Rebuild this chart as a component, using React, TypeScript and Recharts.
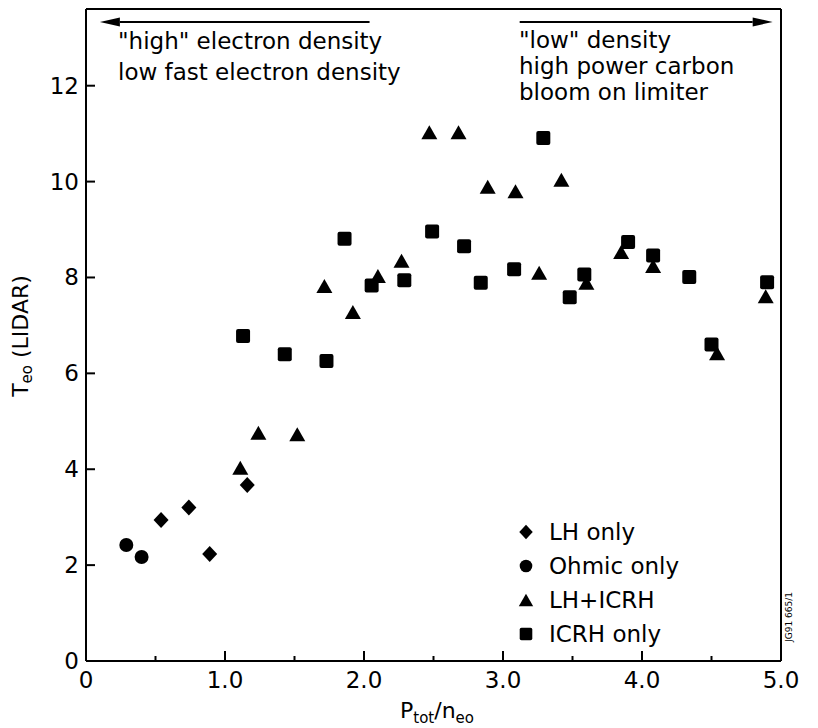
import React from 'react';
import { ScatterChart, Scatter, XAxis, YAxis, ReferenceLine, Legend, Customized } from 'recharts';

// T_eo (LIDAR) against P_tot/n_eo, one array per heating scheme
const lhOnly = [
  { x: 0.54, y: 2.94 },
  { x: 0.74, y: 3.2 },
  { x: 0.89, y: 2.23 },
  { x: 1.16, y: 3.67 },
];

const ohmicOnly = [
  { x: 0.29, y: 2.42 },
  { x: 0.4, y: 2.17 },
];

const lhIcrh = [
  { x: 1.11, y: 4.03 },
  { x: 1.24, y: 4.76 },
  { x: 1.52, y: 4.73 },
  { x: 1.715, y: 7.82 },
  { x: 1.92, y: 7.28 },
  { x: 2.1, y: 8.03 },
  { x: 2.27, y: 8.35 },
  { x: 2.47, y: 11.03 },
  { x: 2.68, y: 11.03 },
  { x: 2.89, y: 9.89 },
  { x: 3.09, y: 9.8 },
  { x: 3.26, y: 8.1 },
  { x: 3.42, y: 10.04 },
  { x: 3.6, y: 7.89 },
  { x: 3.85, y: 8.53 },
  { x: 4.08, y: 8.24 },
  { x: 4.54, y: 6.42 },
  { x: 4.89, y: 7.61 },
];

const icrhOnly = [
  { x: 1.13, y: 6.78 },
  { x: 1.43, y: 6.4 },
  { x: 1.73, y: 6.26 },
  { x: 1.86, y: 8.81 },
  { x: 2.055, y: 7.83 },
  { x: 2.29, y: 7.94 },
  { x: 2.49, y: 8.96 },
  { x: 2.72, y: 8.65 },
  { x: 2.84, y: 7.89 },
  { x: 3.08, y: 8.17 },
  { x: 3.29, y: 10.91 },
  { x: 3.48, y: 7.59 },
  { x: 3.585, y: 8.06 },
  { x: 3.9, y: 8.74 },
  { x: 4.08, y: 8.46 },
  { x: 4.34, y: 8.01 },
  { x: 4.5, y: 6.6 },
  { x: 4.9, y: 7.9 },
];

const xTicks = [0, 0.5, 1, 1.5, 2, 2.5, 3, 3.5, 4, 4.5, 5];
const yTicks = [0, 2, 4, 6, 8, 10, 12];
const xTickLabels: Record<number, string> = { 0: '0', 1: '1.0', 2: '2.0', 3: '3.0', 4: '4.0', 5: '5.0' };

const Y_MAX = 13.6;
const ARROW_Y = 13.33;

const FONT = '"DejaVu Sans", sans-serif';

type Kind = 'diamond' | 'circle' | 'triangle' | 'square';

const series: { name: string; kind: Kind; data: { x: number; y: number }[] }[] = [
  { name: 'LH only', kind: 'diamond', data: lhOnly },
  { name: 'Ohmic only', kind: 'circle', data: ohmicOnly },
  { name: 'LH+ICRH', kind: 'triangle', data: lhIcrh },
  { name: 'ICRH only', kind: 'square', data: icrhOnly },
];

function Marker({ kind, cx, cy, s = 1 }: { kind: Kind; cx: number; cy: number; s?: number }) {
  if (kind === 'diamond') {
    return <polygon points={`${cx},${cy - 8 * s} ${cx + 7.5 * s},${cy} ${cx},${cy + 8 * s} ${cx - 7.5 * s},${cy}`} fill="#000" />;
  }
  if (kind === 'circle') {
    return <circle cx={cx} cy={cy} r={7 * s} fill="#000" />;
  }
  if (kind === 'triangle') {
    return <polygon points={`${cx},${cy - 7 * s} ${cx + 8 * s},${cy + 7 * s} ${cx - 8 * s},${cy + 7 * s}`} fill="#000" />;
  }
  return <rect x={cx - 7 * s} y={cy - 7 * s} width={14 * s} height={14 * s} rx={2 * s} fill="#000" />;
}

const XTick = (props: any) => {
  const { x, y, payload } = props;
  const v = payload.value;
  const major = Number.isInteger(v);
  return (
    <g>
      <line x1={x} y1={y} x2={x} y2={y - (major ? 10 : 5)} stroke="#000" strokeWidth={2} />
      {major && (
        <text x={x} y={y + 27} textAnchor="middle" fontSize={23} fontFamily={FONT} fill="#000">
          {xTickLabels[v]}
        </text>
      )}
    </g>
  );
};

const YTick = (props: any) => {
  const { x, y, payload } = props;
  return (
    <g>
      <line x1={x} y1={y} x2={x + 9} y2={y} stroke="#000" strokeWidth={2} />
      <text x={x - 7} y={y + 8} textAnchor="end" fontSize={23} fontFamily={FONT} fill="#000">
        {payload.value}
      </text>
    </g>
  );
};

const Arrow = (props: any) => {
  const { x1, y1, x2, y2 } = props;
  const dir = Math.sign(x2 - x1);
  const head = 20;
  return (
    <g>
      <line x1={x1} y1={y1} x2={x2 - dir * head} y2={y2} stroke="#000" strokeWidth={2} />
      <polygon points={`${x2},${y2} ${x2 - dir * head},${y2 - 4.5} ${x2 - dir * head},${y2 + 4.5}`} fill="#000" />
    </g>
  );
};

const LegendContent = () => (
  <div style={{ fontFamily: FONT, fontSize: 23, color: '#000' }}>
    {series.map((s) => (
      <div key={s.name} style={{ display: 'flex', alignItems: 'center', height: 34 }}>
        <svg width={22} height={22} style={{ flex: 'none' }}>
          <Marker kind={s.kind} cx={11} cy={11} s={0.9} />
        </svg>
        <span style={{ marginLeft: 12, lineHeight: '34px', whiteSpace: 'nowrap' }}>{s.name}</span>
      </div>
    ))}
  </div>
);

const Annotations = () => (
  <g fontFamily={FONT} fill="#000">
    <text x={110} y={41} fontSize={23}>"high" electron density</text>
    <text x={110} y={72} fontSize={23}>low fast electron density</text>
    <text x={511} y={40} fontSize={23}>"low" density</text>
    <text x={511} y={66} fontSize={23}>high power carbon</text>
    <text x={511} y={92} fontSize={23}>bloom on limiter</text>
    <text x={20} y={328} transform="rotate(-90 20 328)" textAnchor="middle" fontSize={22}>
      T<tspan fontSize={15} dy={4}>eo</tspan>
      <tspan dy={-4}> (LIDAR)</tspan>
    </text>
    <text x={429} y={710} textAnchor="middle" fontSize={22}>
      P<tspan fontSize={15} dy={5}>tot</tspan>
      <tspan dy={-5}>/n</tspan>
      <tspan fontSize={15} dy={5}>eo</tspan>
    </text>
    <text x={784} y={609} transform="rotate(-90 784 609)" textAnchor="middle" fontSize={9}>
      JG91 665/1
    </text>
  </g>
);

export default function App() {
  return (
    <div style={{ width: 810, height: 720, background: '#fff' }}>
      <ScatterChart width={810} height={720} margin={{ top: 1, right: 37, bottom: 27, left: 28 }}>
        <XAxis
          type="number"
          dataKey="x"
          domain={[0, 5]}
          ticks={xTicks}
          interval={0}
          height={40}
          tickSize={0}
          tickMargin={0}
          tickLine={false}
          tick={<XTick />}
          axisLine={{ stroke: '#000', strokeWidth: 2 }}
          allowDataOverflow
        />
        <YAxis
          type="number"
          dataKey="y"
          domain={[0, Y_MAX]}
          ticks={yTicks}
          interval={0}
          width={50}
          tickSize={0}
          tickMargin={0}
          tickLine={false}
          tick={<YTick />}
          axisLine={{ stroke: '#000', strokeWidth: 2 }}
          allowDataOverflow
        />
        <ReferenceLine y={Y_MAX} stroke="#000" strokeWidth={2} ifOverflow="visible" />
        <ReferenceLine x={5} stroke="#000" strokeWidth={2} ifOverflow="visible" />
        <ReferenceLine
          segment={[{ x: 2.04, y: ARROW_Y }, { x: 0.1, y: ARROW_Y }]}
          ifOverflow="visible"
          shape={Arrow}
        />
        <ReferenceLine
          segment={[{ x: 3.12, y: ARROW_Y }, { x: 4.94, y: ARROW_Y }]}
          ifOverflow="visible"
          shape={Arrow}
        />
        {series.map((s) => (
          <Scatter
            key={s.name}
            name={s.name}
            data={s.data}
            isAnimationActive={false}
            shape={(p: any) => <Marker kind={s.kind} cx={p.cx} cy={p.cy} />}
          />
        ))}
        <Legend
          layout="vertical"
          align="center"
          verticalAlign="middle"
          content={LegendContent}
          wrapperStyle={{ left: 507, top: 507, width: 230, height: 140 }}
        />
        <Customized component={Annotations} />
      </ScatterChart>
    </div>
  );
}
